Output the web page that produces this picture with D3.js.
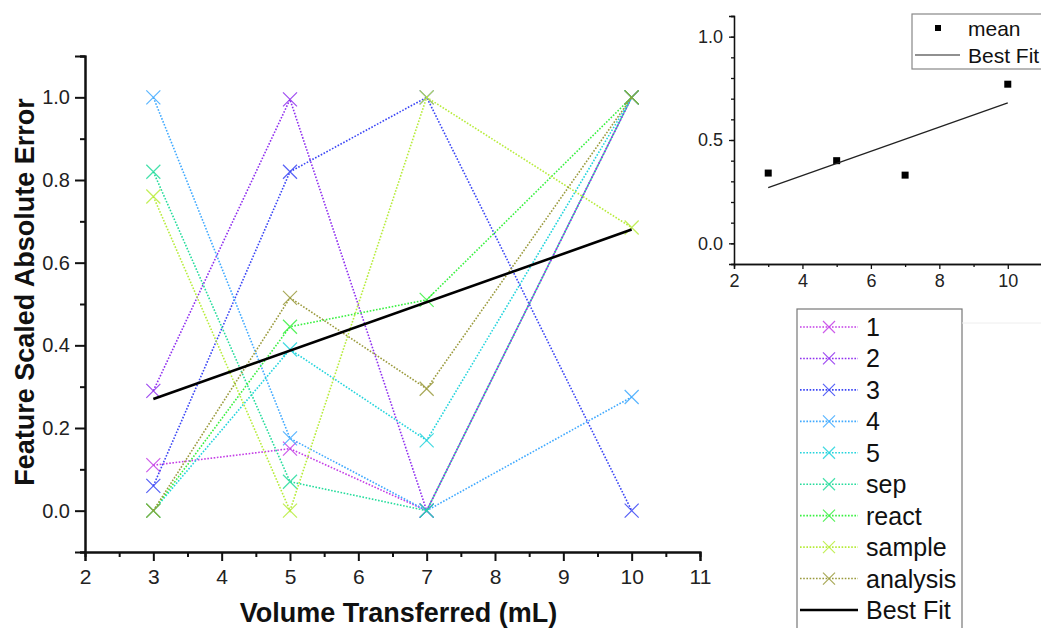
<!DOCTYPE html>
<html>
<head>
<meta charset="utf-8">
<script src="https://cdn.jsdelivr.net/npm/d3@7"></script>
<style>
  body { margin: 0; background: #fff; }
  svg { display: block; font-family: "Liberation Sans", Arial, sans-serif; }
</style>
</head>
<body>
<div id="chart"></div>
<script>
// volumes (mL) where each run was measured
const volumes = [3, 5, 7, 10]

// feature scaled absolute error, one array per feature
const seriesNames = ["1", "2", "3", "4", "5", "sep", "react", "sample", "analysis"]
const s1 = [0.11, 0.15, 0.00, 1.00]
const s2 = [0.29, 0.995, 0.00, 1.00]
const s3 = [0.06, 0.82, 1.00, 0.00]
const s4 = [1.00, 0.175, 0.00, 0.275]
const s5 = [0.00, 0.39, 0.17, 1.00]
const sep = [0.82, 0.07, 0.00, 1.00]
const react = [0.00, 0.445, 0.51, 1.00]
const sample = [0.76, 0.00, 1.00, 0.685]
const analysis = [0.00, 0.515, 0.295, 1.00]
const seriesValues = [s1, s2, s3, s4, s5, sep, react, sample, analysis]
const seriesColors = ["#c43ee6", "#8f2fef", "#3a45f5", "#3fa9ff", "#22d4dc",
                      "#25dc9c", "#38f040", "#b7ec3a", "#9a9a3c"]

// mean of all features and the linear fit through them
const meanValues = [0.34, 0.40, 0.33, 0.77]
const fitX = [3, 10]
const fitY = [0.27, 0.68]

const mainXTicks = [2, 3, 4, 5, 6, 7, 8, 9, 10, 11]
const mainYTicks = [0, 0.2, 0.4, 0.6, 0.8, 1.0]
const insetXTicks = [2, 4, 6, 8, 10]
const insetYTicks = [0, 0.5, 1.0]

const W = 1041, H = 628

const svg = d3.select("#chart").append("svg")
  .attr("width", W)
  .attr("height", H)

// ---------- main panel ----------
const x = d3.scaleLinear().domain([2, 11]).range([85, 700])
const y = d3.scaleLinear().domain([-0.1, 1.1]).range([552, 56])

const main = svg.append("g")

const yAxis = d3.axisLeft(y)
  .tickValues(mainYTicks)
  .tickFormat(d3.format(".1f"))
  .tickSize(10)
  .tickPadding(5)
const yMinor = d3.axisLeft(y)
  .tickValues(d3.range(-1, 12).map(i => i / 10).filter(v => Math.round(v * 10) % 2 !== 0))
  .tickFormat("")
  .tickSize(5)

const xAxis = d3.axisBottom(x)
  .tickValues(mainXTicks)
  .tickFormat(d3.format("d"))
  .tickSize(9)
  .tickPadding(8)
const xMinor = d3.axisBottom(x)
  .tickValues(d3.range(2.5, 11, 1))
  .tickFormat("")
  .tickSize(5)

function styleAxis(g, size, color, width) {
  g.select(".domain").attr("stroke", "#111").attr("stroke-width", width)
  g.selectAll(".tick line").attr("stroke", "#111").attr("stroke-width", width)
  g.selectAll(".tick text")
    .attr("font-size", size)
    .attr("fill", color)
    .attr("font-family", "Liberation Sans, Arial, sans-serif")
}

main.append("g").attr("transform", `translate(${x(2)},0)`).call(yMinor)
  .call(g => styleAxis(g, 20, "#222", 2))
main.append("g").attr("transform", `translate(${x(2)},0)`).call(yAxis)
  .call(g => styleAxis(g, 20, "#222", 2))
main.append("g").attr("transform", `translate(0,${y(-0.1)})`).call(xMinor)
  .call(g => styleAxis(g, 21, "#222", 2))
main.append("g").attr("transform", `translate(0,${y(-0.1)})`).call(xAxis)
  .call(g => styleAxis(g, 21, "#222", 2))

main.append("text")
  .attr("transform", `translate(27,${(y(-0.1) + y(1.1)) / 2 - 12}) rotate(-90)`)
  .attr("text-anchor", "middle")
  .attr("dominant-baseline", "middle")
  .attr("font-weight", "bold")
  .attr("font-size", 27)
  .attr("fill", "#111")
  .text("Feature Scaled Absolute Error")

main.append("text")
  .attr("x", (x(2) + x(11)) / 2 + 6)
  .attr("y", 622)
  .attr("text-anchor", "middle")
  .attr("font-weight", "bold")
  .attr("font-size", 27)
  .attr("fill", "#111")
  .text("Volume Transferred (mL)")

const line = d3.line()
  .x((d, i) => x(volumes[i]))
  .y(d => y(d))

function cross(sel, size) {
  sel.append("path")
    .attr("d", `M${-size},${-size}L${size},${size}M${-size},${size}L${size},${-size}`)
}

seriesValues.forEach((vals, k) => {
  const g = main.append("g")
  g.append("path")
    .datum(vals)
    .attr("d", line)
    .attr("fill", "none")
    .attr("stroke", seriesColors[k])
    .attr("stroke-width", 1.6)
    .attr("stroke-dasharray", "1.6,1.6")

  g.selectAll(".pt")
    .data(vals)
    .enter().append("g")
      .attr("class", "pt")
      .attr("transform", (d, i) => `translate(${x(volumes[i])},${y(d)})`)
      .attr("stroke", seriesColors[k])
      .attr("stroke-opacity", 0.85)
      .attr("stroke-width", 1.2)
      .call(sel => cross(sel, 7))
})

main.append("path")
  .datum(fitY)
  .attr("d", d3.line().x((d, i) => x(fitX[i])).y(d => y(d)))
  .attr("fill", "none")
  .attr("stroke", "#000")
  .attr("stroke-width", 2.6)

// ---------- legend for main panel ----------
const legend = svg.append("g").attr("transform", "translate(797,309)")
legend.append("rect")
  .attr("width", 165)
  .attr("height", 330)
  .attr("fill", "#fff")
  .attr("stroke", "#777")
  .attr("stroke-width", 1.2)

const legendNames = seriesNames.concat(["Best Fit"])
const rowY = d3.scalePoint().domain(legendNames).range([18, 301])

legendNames.forEach((name, k) => {
  const row = legend.append("g").attr("transform", `translate(0,${rowY(name)})`)
  if (k < seriesNames.length) {
    row.append("line")
      .attr("x1", 3).attr("x2", 61)
      .attr("stroke", seriesColors[k])
      .attr("stroke-width", 1.6)
      .attr("stroke-dasharray", "1.6,1.6")
    row.append("g")
      .attr("transform", "translate(32,0)")
      .attr("stroke", seriesColors[k])
      .attr("stroke-opacity", 0.85)
      .attr("stroke-width", 1.2)
      .call(sel => cross(sel, 6))
  } else {
    row.append("line")
      .attr("x1", 3).attr("x2", 61)
      .attr("stroke", "#000")
      .attr("stroke-width", 2.6)
  }
  row.append("text")
    .attr("x", 69)
    .attr("dominant-baseline", "central")
    .attr("font-size", 25)
    .attr("fill", "#111")
    .text(name)
})

// faint frame line to the right of the legend
svg.append("line")
  .attr("x1", 962).attr("x2", W)
  .attr("y1", 323).attr("y2", 323)
  .attr("stroke", "#eee")

// ---------- inset ----------
const ix = d3.scaleLinear().domain([2, 11]).range([734, 1042])
const iy = d3.scaleLinear().domain([-0.1, 1.1]).range([264, 16])

const inset = svg.append("g")

inset.append("g").attr("transform", `translate(${ix(2)},0)`)
  .call(d3.axisLeft(iy).tickValues(d3.range(-1, 12).map(i => i / 10)).tickFormat("").tickSize(3))
  .call(g => styleAxis(g, 18, "#222", 1.3))
inset.append("g").attr("transform", `translate(${ix(2)},0)`)
  .call(d3.axisLeft(iy).tickValues(insetYTicks).tickFormat(d3.format(".1f")).tickSize(5).tickPadding(6))
  .call(g => styleAxis(g, 18, "#222", 1.3))
inset.append("g").attr("transform", `translate(0,${iy(-0.1)})`)
  .call(d3.axisBottom(ix).tickValues(d3.range(3, 12, 2)).tickFormat("").tickSize(3))
  .call(g => styleAxis(g, 18, "#222", 1.3))
inset.append("g").attr("transform", `translate(0,${iy(-0.1)})`)
  .call(d3.axisBottom(ix).tickValues(insetXTicks).tickFormat(d3.format("d")).tickSize(5).tickPadding(5))
  .call(g => styleAxis(g, 18, "#222", 1.3))

inset.selectAll(".mean")
  .data(meanValues)
  .enter().append("rect")
    .attr("class", "mean")
    .attr("x", (d, i) => ix(volumes[i]) - 3.5)
    .attr("y", d => iy(d) - 3.5)
    .attr("width", 7)
    .attr("height", 7)
    .attr("fill", "#000")

inset.append("path")
  .datum(fitY)
  .attr("d", d3.line().x((d, i) => ix(fitX[i])).y(d => iy(d)))
  .attr("fill", "none")
  .attr("stroke", "#222")
  .attr("stroke-width", 1.3)

const ilegend = inset.append("g").attr("transform", "translate(912,14)")
ilegend.append("rect")
  .attr("width", 135)
  .attr("height", 55)
  .attr("fill", "#fff")
  .attr("stroke", "#888")
  .attr("stroke-width", 1.2)
ilegend.append("rect")
  .attr("x", 23).attr("y", 11)
  .attr("width", 6).attr("height", 6)
  .attr("fill", "#000")
ilegend.append("text")
  .attr("x", 56).attr("y", 14)
  .attr("dominant-baseline", "central")
  .attr("font-size", 21)
  .attr("fill", "#111")
  .text("mean")
ilegend.append("line")
  .attr("x1", 3).attr("x2", 48)
  .attr("y1", 41).attr("y2", 41)
  .attr("stroke", "#222")
  .attr("stroke-width", 1.2)
ilegend.append("text")
  .attr("x", 56).attr("y", 41)
  .attr("dominant-baseline", "central")
  .attr("font-size", 21)
  .attr("fill", "#111")
  .text("Best Fit")
</script>
</body>
</html>
